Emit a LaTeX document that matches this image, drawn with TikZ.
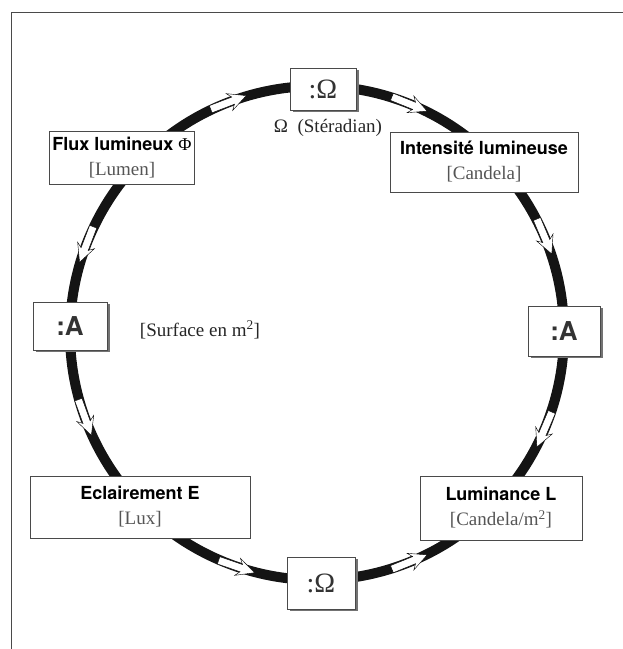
\documentclass[tikz,border=0pt]{standalone}
\usepackage{fontspec}
\setmainfont{Liberation Serif}
\setsansfont{TeX Gyre Heros}
\usepackage{tikz}
\usetikzlibrary{shadows}

\definecolor{boxline}{HTML}{4A4A4A}
\definecolor{unitgray}{HTML}{555555}

\begin{document}
\begin{tikzpicture}[
   x=1pt,y=1pt,
   qty/.style={draw=boxline,semithick,fill=white,align=center,inner sep=0pt,
      font=\fontsize{19}{25}\selectfont},
   opbox/.style={draw=boxline,semithick,fill=white,inner sep=0pt,text=black!80,
      drop shadow={shadow xshift=2.5pt,shadow yshift=-2.5pt,fill=black!55,opacity=1}},
   flow/.pic={\draw[black,thin,fill=white,line join=miter]
      (-19,-3.8) -- (5,-3.8) -- (1,-9) -- (19,0) -- (1,9) -- (5,3.8) -- (-19,3.8) -- cycle;},
   ring/.style={line width=10pt,black!92},
   title/.style={font=\sffamily\bfseries\fontsize{18}{24}\selectfont},
   unit/.style={text=unitgray}]
\useasboundingbox (0,0) rectangle (623,649);
\draw[boxline,semithick] (11,0) -- (11,637) -- (623,637);
\coordinate (c) at (317,316);
\draw[ring] (c) circle (247);
% hollow arrows round the ring
\foreach \a/\r [count=\i] in {111/21,68/-22,23/-67,-23/-113,159/249,200/290,-109/-19,-68/22}
   \pic[rotate=\r] (flow\i) at ([shift={(\a:247)}]c) {flow};
% quantities
\node[qty,minimum width=145pt,minimum height=53pt] (flux) at (122,491)
   {{\sffamily\bfseries\fontsize{18}{24}\selectfont Flux lumineux \rmfamily\mdseries Φ}\\
    \color{unitgray}[Lumen]};
\node[qty,minimum width=188pt,minimum height=60pt] (intens) at (484,487)
   {{\sffamily\bfseries\fontsize{18}{24}\selectfont Intensité lumineuse}\\
    \color{unitgray}[Candela]};
\node[qty,minimum width=220pt,minimum height=62pt] (eclair) at (140,142)
   {{\sffamily\bfseries\fontsize{18}{24}\selectfont Eclairement E}\\
    \color{unitgray}[Lux]};
\node[qty,minimum width=162pt,minimum height=64pt] (lumin) at (501,141)
   {{\sffamily\bfseries\fontsize{18}{24}\selectfont Luminance L}\\
    \color{unitgray}[Candela/m\textsuperscript{2}]};
% operations
\node[opbox,minimum width=66pt,minimum height=42pt,font=\fontsize{28}{30}\selectfont] (omtop) at (323,560) {:Ω};
\node[opbox,minimum width=68pt,minimum height=52pt,font=\fontsize{28}{30}\selectfont] (ombot) at (321,66) {:Ω};
\node[opbox,minimum width=74pt,minimum height=48pt,font=\sffamily\bfseries\fontsize{26}{28}\selectfont] (aleft) at (70,323) {:A};
\node[opbox,minimum width=72pt,minimum height=50pt,font=\sffamily\bfseries\fontsize{26}{28}\selectfont] (aright) at (564,318) {:A};
% free labels
\node[font=\fontsize{19}{22}\selectfont,text=black!85] (sterad) at (328,521) {Ω\ \ (Stéradian)};
\node[font=\fontsize{19}{22}\selectfont,text=black!85] (surf) at (200,319) {[Surface en m\textsuperscript{2}]};
\end{tikzpicture}
\end{document}
